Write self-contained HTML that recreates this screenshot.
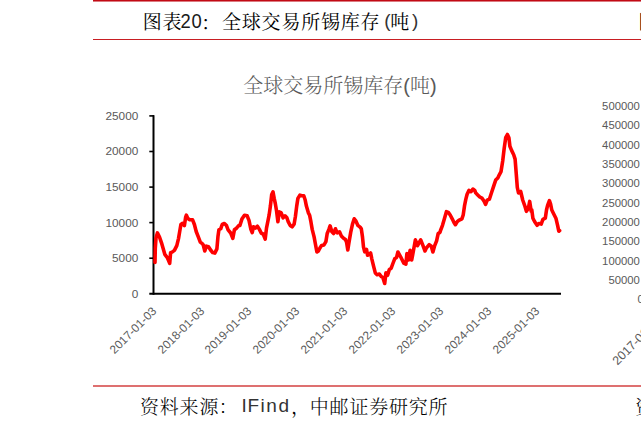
<!DOCTYPE html>
<html lang="zh-CN"><head><meta charset="utf-8"><style>
html,body{margin:0;padding:0;background:#fff;}
body{width:641px;height:425px;position:relative;overflow:hidden;}
.yl{position:absolute;right:502.7px;font-family:"Liberation Sans",sans-serif;font-size:11.8px;line-height:14px;color:#595959;}
.ry{position:absolute;right:1.2px;font-family:"Liberation Sans",sans-serif;font-size:11.3px;line-height:14px;color:#595959;}
.xl{position:absolute;transform-origin:100% 50%;transform:rotate(-45deg);font-family:"Liberation Sans",sans-serif;font-size:11.8px;line-height:14px;color:#595959;white-space:nowrap;}
</style></head><body>
<div style="position:absolute;left:93px;top:0;width:548px;height:1px;background:#c20a14;"></div>
<div style="position:absolute;left:93px;top:1px;width:548px;height:1px;background:#dc7a80;"></div>
<span style="position:absolute;left:142.40px;top:12.80px;width:19.80px;text-align:center;font-family:'Liberation Serif','Noto Serif CJK SC',serif;font-size:19px;line-height:19px;color:#000;font-weight:400;white-space:nowrap;">图</span><span style="position:absolute;left:162.20px;top:12.80px;width:19.80px;text-align:center;font-family:'Liberation Serif','Noto Serif CJK SC',serif;font-size:19px;line-height:19px;color:#000;font-weight:400;white-space:nowrap;">表</span><span style="position:absolute;left:179.50px;top:11.30px;width:9.90px;text-align:center;font-family:'Liberation Sans',sans-serif;font-size:20px;line-height:20px;color:#1a1a1a;font-weight:400;white-space:nowrap;transform:scaleX(0.92);">2</span><span style="position:absolute;left:190.90px;top:11.30px;width:9.90px;text-align:center;font-family:'Liberation Sans',sans-serif;font-size:20px;line-height:20px;color:#1a1a1a;font-weight:400;white-space:nowrap;transform:scaleX(0.92);">0</span><span style="position:absolute;left:201.30px;top:14.30px;text-align:left;font-family:'Liberation Serif','Noto Serif CJK SC',serif;font-size:19px;line-height:19px;color:#000;font-weight:400;white-space:nowrap;">：</span><span style="position:absolute;left:221.60px;top:12.80px;width:19.80px;text-align:center;font-family:'Liberation Serif','Noto Serif CJK SC',serif;font-size:19px;line-height:19px;color:#000;font-weight:400;white-space:nowrap;">全</span><span style="position:absolute;left:241.40px;top:12.80px;width:19.80px;text-align:center;font-family:'Liberation Serif','Noto Serif CJK SC',serif;font-size:19px;line-height:19px;color:#000;font-weight:400;white-space:nowrap;">球</span><span style="position:absolute;left:261.20px;top:12.80px;width:19.80px;text-align:center;font-family:'Liberation Serif','Noto Serif CJK SC',serif;font-size:19px;line-height:19px;color:#000;font-weight:400;white-space:nowrap;">交</span><span style="position:absolute;left:281.00px;top:12.80px;width:19.80px;text-align:center;font-family:'Liberation Serif','Noto Serif CJK SC',serif;font-size:19px;line-height:19px;color:#000;font-weight:400;white-space:nowrap;">易</span><span style="position:absolute;left:300.80px;top:12.80px;width:19.80px;text-align:center;font-family:'Liberation Serif','Noto Serif CJK SC',serif;font-size:19px;line-height:19px;color:#000;font-weight:400;white-space:nowrap;">所</span><span style="position:absolute;left:320.60px;top:12.80px;width:19.80px;text-align:center;font-family:'Liberation Serif','Noto Serif CJK SC',serif;font-size:19px;line-height:19px;color:#000;font-weight:400;white-space:nowrap;">锡</span><span style="position:absolute;left:340.40px;top:12.80px;width:19.80px;text-align:center;font-family:'Liberation Serif','Noto Serif CJK SC',serif;font-size:19px;line-height:19px;color:#000;font-weight:400;white-space:nowrap;">库</span><span style="position:absolute;left:360.20px;top:12.80px;width:19.80px;text-align:center;font-family:'Liberation Serif','Noto Serif CJK SC',serif;font-size:19px;line-height:19px;color:#000;font-weight:400;white-space:nowrap;">存</span><span style="position:absolute;left:382.50px;top:11.30px;width:9.90px;text-align:center;font-family:'Liberation Sans',sans-serif;font-size:19px;line-height:19px;color:#333;font-weight:400;white-space:nowrap;">(</span><span style="position:absolute;left:389.90px;top:12.80px;width:19.80px;text-align:center;font-family:'Liberation Serif','Noto Serif CJK SC',serif;font-size:19px;line-height:19px;color:#000;font-weight:400;white-space:nowrap;">吨</span><span style="position:absolute;left:410.20px;top:11.30px;width:9.90px;text-align:center;font-family:'Liberation Sans',sans-serif;font-size:19px;line-height:19px;color:#333;font-weight:400;white-space:nowrap;">)</span>
<span style="position:absolute;left:637.90px;top:12.80px;width:19.80px;text-align:center;font-family:'Liberation Serif','Noto Serif CJK SC',serif;font-size:19px;line-height:19px;color:#000;font-weight:400;white-space:nowrap;">图</span>
<div style="position:absolute;left:93px;top:39px;width:548px;height:1px;background:#c81e23;"></div>
<div style="position:absolute;left:200px;top:73.6px;width:280px;text-align:center;font-family:'Liberation Sans','Noto Serif CJK SC',serif;font-weight:300;font-size:20px;line-height:24px;color:#595959;">全球交易所锡库存(吨)</div>
<div class="yl" style="top:108.90px;">25000</div><div class="yl" style="top:144.48px;">20000</div><div class="yl" style="top:180.06px;">15000</div><div class="yl" style="top:215.64px;">10000</div><div class="yl" style="top:251.22px;">5000</div><div class="yl" style="top:286.80px;">0</div>
<div class="ry" style="top:99.10px;">500000</div><div class="ry" style="top:118.40px;">450000</div><div class="ry" style="top:137.70px;">400000</div><div class="ry" style="top:157.00px;">350000</div><div class="ry" style="top:176.30px;">300000</div><div class="ry" style="top:195.60px;">250000</div><div class="ry" style="top:214.90px;">200000</div><div class="ry" style="top:234.20px;">150000</div><div class="ry" style="top:253.50px;">100000</div><div class="ry" style="top:272.80px;">50000</div><div class="ry" style="top:292.10px;right:-2.8px;">0</div>
<svg width="641" height="425" style="position:absolute;left:0;top:0;">
<g stroke="#000" stroke-width="2" fill="none">
<line x1="153.5" y1="115.2" x2="153.5" y2="294.8"/>
<line x1="149.3" y1="293.8" x2="561" y2="293.8"/>
<line x1="149.3" y1="115.9" x2="154" y2="115.9" stroke-width="1.6"/><line x1="149.3" y1="151.5" x2="154" y2="151.5" stroke-width="1.6"/><line x1="149.3" y1="187.1" x2="154" y2="187.1" stroke-width="1.6"/><line x1="149.3" y1="222.6" x2="154" y2="222.6" stroke-width="1.6"/><line x1="149.3" y1="258.2" x2="154" y2="258.2" stroke-width="1.6"/>
</g>
<polyline points="155.0,262.5 155.3,248.0 156.0,238.0 157.4,232.9 159.5,237.0 161.5,242.8 164.8,254.3 167.3,257.6 169.7,263.3 170.6,252.6 172.1,252.1 174.4,250.4 176.8,245.6 178.5,238.6 179.7,231.5 180.9,224.5 182.6,223.3 184.4,225.6 185.6,217.4 186.4,215.1 187.9,218.6 189.7,219.8 192.6,219.8 194.4,224.5 196.2,231.5 198.5,237.4 200.3,242.1 201.6,243.1 203.2,244.7 204.8,251.0 206.4,246.2 208.5,246.8 210.6,250.0 212.7,252.6 214.8,253.1 216.9,248.9 218.0,236.2 218.9,229.8 220.7,228.8 222.2,224.5 224.4,223.5 226.5,225.6 228.1,229.8 230.7,233.0 232.8,238.3 234.4,229.8 236.5,228.2 238.7,225.6 239.9,225.5 241.9,219.1 244.5,215.2 247.1,215.8 249.0,220.4 250.9,229.4 252.2,232.7 253.5,226.8 255.5,228.1 257.4,226.2 259.4,229.4 261.3,233.3 263.2,234.0 265.2,239.1 266.5,228.1 267.8,221.7 269.1,215.2 270.4,206.1 271.7,194.5 273.0,191.9 274.2,198.4 275.3,203.5 276.6,211.3 277.9,221.7 279.2,211.9 281.1,212.6 283.1,217.8 285.0,215.8 286.9,217.8 288.2,221.7 290.2,225.5 292.1,226.8 294.1,224.2 295.4,216.5 296.7,206.1 297.9,198.4 299.9,195.1 301.8,195.8 303.8,195.8 305.1,199.7 306.4,206.1 308.3,212.6 309.6,215.2 310.9,221.7 312.2,229.4 314.1,236.9 315.5,244.5 316.9,252.0 318.4,251.0 319.8,248.2 321.6,245.4 324.0,244.9 325.9,241.6 327.2,233.5 328.9,229.4 330.1,225.9 331.9,231.8 333.6,233.5 335.4,228.8 337.2,232.9 339.5,231.8 341.3,235.9 343.6,238.2 345.4,239.4 346.6,242.4 347.8,250.0 348.9,242.9 350.7,232.4 352.5,224.1 354.2,218.8 356.0,221.2 357.8,225.3 360.1,227.1 361.3,228.8 362.5,237.1 363.5,247.1 364.7,251.8 366.5,249.4 367.6,255.3 369.4,254.1 370.6,252.9 371.8,258.8 373.5,265.9 375.3,272.9 377.1,274.7 379.4,274.1 381.2,276.5 382.9,277.6 384.7,283.5 385.9,272.9 387.6,275.3 389.4,269.4 391.2,268.2 392.9,263.5 394.7,258.8 396.5,257.6 397.9,252.0 400.6,256.8 403.8,263.1 405.9,264.2 406.9,253.6 408.5,260.0 410.1,250.4 411.7,260.0 413.3,251.5 415.4,239.8 417.5,245.7 420.7,239.8 422.8,245.1 425.0,251.0 426.5,247.8 429.2,244.6 431.3,246.2 432.9,252.0 434.5,246.2 436.6,240.9 438.2,233.5 440.0,232.4 440.5,230.5 442.5,225.3 444.4,218.8 446.4,211.7 448.3,212.4 450.2,215.0 452.2,218.8 454.1,222.7 455.4,224.7 457.4,221.4 459.3,220.1 461.9,218.8 463.2,215.0 464.5,205.9 465.8,199.4 467.1,194.2 469.0,190.4 471.0,191.7 472.9,189.1 474.8,190.4 475.6,192.8 477.7,194.9 479.8,197.0 481.9,198.1 484.1,201.3 485.6,204.4 487.2,200.2 489.4,199.2 491.5,192.8 493.6,186.4 495.7,180.1 497.8,178.0 499.3,174.8 501.0,171.6 502.7,161.0 504.2,148.3 505.7,137.7 507.4,134.5 508.9,137.7 509.9,146.2 511.6,150.4 513.7,154.7 515.1,159.1 516.2,173.2 517.3,187.3 518.5,193.0 520.7,191.5 522.7,200.0 524.7,205.6 526.4,211.3 528.3,208.5 529.7,201.4 531.2,211.3 531.8,210.0 532.9,218.2 534.7,221.8 537.1,225.3 538.8,223.5 541.2,224.1 542.9,219.4 545.3,218.2 546.5,210.0 547.6,205.3 549.4,200.6 550.6,204.1 551.8,210.0 553.5,213.5 555.9,218.2 557.6,225.3 558.8,231.2 559.6,230.6" fill="none" stroke="#ff0000" stroke-width="3.6" stroke-linejoin="round" stroke-linecap="round"/>
</svg>
<div class="xl" style="right:486.50px;top:302.20px;">2017-01-03</div><div class="xl" style="right:439.10px;top:302.20px;">2018-01-03</div><div class="xl" style="right:391.20px;top:302.20px;">2019-01-03</div><div class="xl" style="right:343.40px;top:302.20px;">2020-01-03</div><div class="xl" style="right:295.50px;top:302.20px;">2021-01-03</div><div class="xl" style="right:247.40px;top:302.20px;">2022-01-03</div><div class="xl" style="right:199.30px;top:302.20px;">2023-01-03</div><div class="xl" style="right:151.70px;top:302.20px;">2024-01-03</div><div class="xl" style="right:103.70px;top:302.20px;">2025-01-03</div>
<div class="xl" style="right:-18.20px;top:310.50px;font-size:12.4px;">2017-01-03</div>
<div style="position:absolute;left:93px;top:385px;width:548px;height:2px;background:#de7070;"></div>
<span style="position:absolute;left:139.60px;top:398.00px;width:19.80px;text-align:center;font-family:'Liberation Serif','Noto Serif CJK SC',serif;font-size:19px;line-height:19px;color:#000;font-weight:300;white-space:nowrap;">资</span><span style="position:absolute;left:159.40px;top:398.00px;width:19.80px;text-align:center;font-family:'Liberation Serif','Noto Serif CJK SC',serif;font-size:19px;line-height:19px;color:#000;font-weight:300;white-space:nowrap;">料</span><span style="position:absolute;left:179.20px;top:398.00px;width:19.80px;text-align:center;font-family:'Liberation Serif','Noto Serif CJK SC',serif;font-size:19px;line-height:19px;color:#000;font-weight:300;white-space:nowrap;">来</span><span style="position:absolute;left:199.00px;top:398.00px;width:19.80px;text-align:center;font-family:'Liberation Serif','Noto Serif CJK SC',serif;font-size:19px;line-height:19px;color:#000;font-weight:300;white-space:nowrap;">源</span><span style="position:absolute;left:218.80px;top:398.00px;text-align:left;font-family:'Liberation Serif','Noto Serif CJK SC',serif;font-size:19px;line-height:19px;color:#000;font-weight:300;white-space:nowrap;">：</span><span style="position:absolute;left:241.60px;top:396.00px;text-align:left;font-family:'Liberation Sans',sans-serif;font-size:19px;line-height:19px;color:#333;font-weight:400;white-space:nowrap;">I</span><span style="position:absolute;left:247.50px;top:396.00px;text-align:left;font-family:'Liberation Sans',sans-serif;font-size:19px;line-height:19px;color:#333;font-weight:400;white-space:nowrap;">F</span><span style="position:absolute;left:260.60px;top:396.00px;text-align:left;font-family:'Liberation Sans',sans-serif;font-size:19px;line-height:19px;color:#333;font-weight:400;white-space:nowrap;">i</span><span style="position:absolute;left:266.30px;top:396.00px;text-align:left;font-family:'Liberation Sans',sans-serif;font-size:19px;line-height:19px;color:#333;font-weight:400;white-space:nowrap;">n</span><span style="position:absolute;left:278.60px;top:396.00px;text-align:left;font-family:'Liberation Sans',sans-serif;font-size:19px;line-height:19px;color:#333;font-weight:400;white-space:nowrap;">d</span><span style="position:absolute;left:291.10px;top:398.00px;text-align:left;font-family:'Liberation Serif','Noto Serif CJK SC',serif;font-size:19px;line-height:19px;color:#000;font-weight:300;white-space:nowrap;">，</span><span style="position:absolute;left:309.40px;top:398.00px;width:19.80px;text-align:center;font-family:'Liberation Serif','Noto Serif CJK SC',serif;font-size:19px;line-height:19px;color:#000;font-weight:300;white-space:nowrap;">中</span><span style="position:absolute;left:329.20px;top:398.00px;width:19.80px;text-align:center;font-family:'Liberation Serif','Noto Serif CJK SC',serif;font-size:19px;line-height:19px;color:#000;font-weight:300;white-space:nowrap;">邮</span><span style="position:absolute;left:349.00px;top:398.00px;width:19.80px;text-align:center;font-family:'Liberation Serif','Noto Serif CJK SC',serif;font-size:19px;line-height:19px;color:#000;font-weight:300;white-space:nowrap;">证</span><span style="position:absolute;left:368.80px;top:398.00px;width:19.80px;text-align:center;font-family:'Liberation Serif','Noto Serif CJK SC',serif;font-size:19px;line-height:19px;color:#000;font-weight:300;white-space:nowrap;">券</span><span style="position:absolute;left:388.60px;top:398.00px;width:19.80px;text-align:center;font-family:'Liberation Serif','Noto Serif CJK SC',serif;font-size:19px;line-height:19px;color:#000;font-weight:300;white-space:nowrap;">研</span><span style="position:absolute;left:408.40px;top:398.00px;width:19.80px;text-align:center;font-family:'Liberation Serif','Noto Serif CJK SC',serif;font-size:19px;line-height:19px;color:#000;font-weight:300;white-space:nowrap;">究</span><span style="position:absolute;left:428.20px;top:398.00px;width:19.80px;text-align:center;font-family:'Liberation Serif','Noto Serif CJK SC',serif;font-size:19px;line-height:19px;color:#000;font-weight:300;white-space:nowrap;">所</span>
<span style="position:absolute;left:634.80px;top:398.00px;width:19.80px;text-align:center;font-family:'Liberation Serif','Noto Serif CJK SC',serif;font-size:19px;line-height:19px;color:#000;font-weight:300;white-space:nowrap;">资</span>
</body></html>
